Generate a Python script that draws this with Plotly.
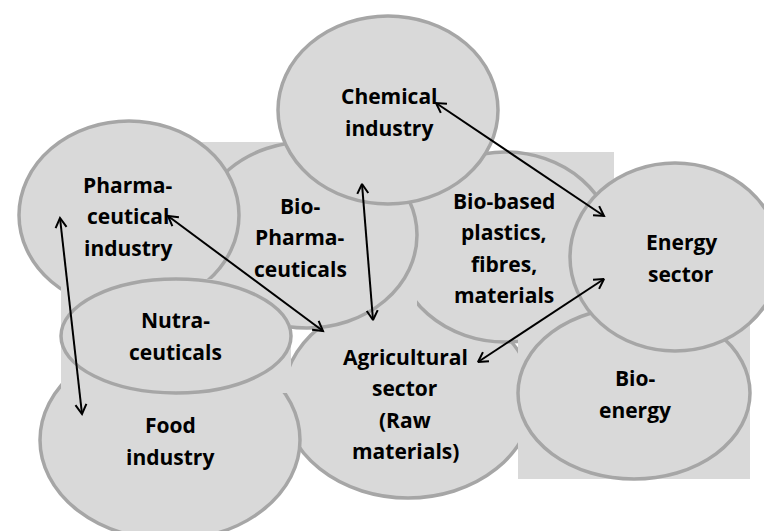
import math
import plotly.graph_objects as go

# ---- diagram data (pixel space, y grows downward) ----
names = ["Agricultural", "Food", "BioBased", "BioPharma", "Pharma",
         "Nutra", "BioEnergy", "Energy", "Chemical"]
cx = [400, 162, 497, 299, 121, 168, 626, 667, 380]
cy = [390, 432, 239, 227, 207, 328, 385, 249, 102]
rx = [125, 130, 109, 110, 110, 115, 116, 105, 110]
ry = [100, 100, 95, 93, 94, 57, 86, 94, 94]
has_box = [False, False, True, True, False, True, True, False, False]

label_text = [
    "Agricultural<br>sector<br>(Raw<br>materials)",
    "Food<br>industry",
    "Bio-based<br>plastics,<br>fibres,<br>materials",
    "Bio-<br>Pharma-<br>ceuticals",
    "Pharma-<br>ceutical<br>industry",
    "Nutra-<br>ceuticals",
    "Bio-<br>energy",
    "Energy<br>sector",
    "Chemical<br>industry",
]
label_x = [397, 162, 496, 292, 120, 167, 627, 673, 381]
label_y = [396, 433, 240, 229, 208, 328, 386, 250, 104]

# double-headed arrows: start (x, y) -> end (x, y)
arrow_x0 = [428, 160, 354, 52, 470]
arrow_y0 = [95, 208, 176, 210, 354]
arrow_x1 = [596, 315, 365, 74, 596]
arrow_y1 = [208, 323, 312, 406, 271]

FILL = "#D9D9D9"
EDGE = "#A6A6A6"
W, H = 772, 531
LINE_GAP = 31.5
HEAD_LEN = 11
HEAD_ANG = math.radians(30)

fig = go.Figure()
shapes = []
for i in range(len(names)):
    x0, x1 = cx[i] - rx[i], cx[i] + rx[i]
    y0, y1 = cy[i] - ry[i], cy[i] + ry[i]
    if has_box[i]:
        shapes.append(dict(type="rect", xref="x", yref="y", x0=x0, x1=x1,
                           y0=y0, y1=y1, fillcolor=FILL,
                           line=dict(width=0), layer="below"))
    shapes.append(dict(type="circle", xref="x", yref="y", x0=x0, x1=x1,
                       y0=y0, y1=y1, fillcolor=FILL,
                       line=dict(color=EDGE, width=3.5), layer="below"))


def head(tx, ty, fx, fy):
    ang = math.atan2(fy - ty, fx - tx)
    pts_x, pts_y = [], []
    for s in (-1, 1):
        a = ang + s * HEAD_ANG
        pts_x.append(tx + HEAD_LEN * math.cos(a))
        pts_y.append(ty + HEAD_LEN * math.sin(a))
    return [pts_x[0], tx, pts_x[1]], [pts_y[0], ty, pts_y[1]]


xs, ys = [], []
for a in range(len(arrow_x0)):
    xa, ya, xb, yb = arrow_x0[a], arrow_y0[a], arrow_x1[a], arrow_y1[a]
    xs += [xa, xb, None]
    ys += [ya, yb, None]
    hx, hy = head(xa, ya, xb, yb)
    xs += hx + [None]
    ys += hy + [None]
    hx, hy = head(xb, yb, xa, ya)
    xs += hx + [None]
    ys += hy + [None]

fig.add_trace(go.Scatter(x=xs, y=ys, mode="lines",
                         line=dict(color="black", width=2),
                         hoverinfo="skip", showlegend=False))

annotations = []
for i in range(len(names)):
    lines = label_text[i].split("<br>")
    n = len(lines)
    for k, t in enumerate(lines):
        annotations.append(dict(
            x=label_x[i], y=label_y[i] + (k - (n - 1) / 2) * LINE_GAP,
            xref="x", yref="y", text=t, showarrow=False,
            font=dict(family="Open Sans", size=21, color="black", weight="bold"),
            xanchor="center", yanchor="middle"))

fig.update_layout(
    width=W, height=H, margin=dict(l=0, r=0, t=0, b=0),
    paper_bgcolor="white", plot_bgcolor="white",
    shapes=shapes, annotations=annotations,
    xaxis=dict(range=[0, W], visible=False, fixedrange=True),
    yaxis=dict(range=[H, 0], visible=False, fixedrange=True),
    showlegend=False,
)
fig.write_html("out.html", config={"displayModeBar": False})
